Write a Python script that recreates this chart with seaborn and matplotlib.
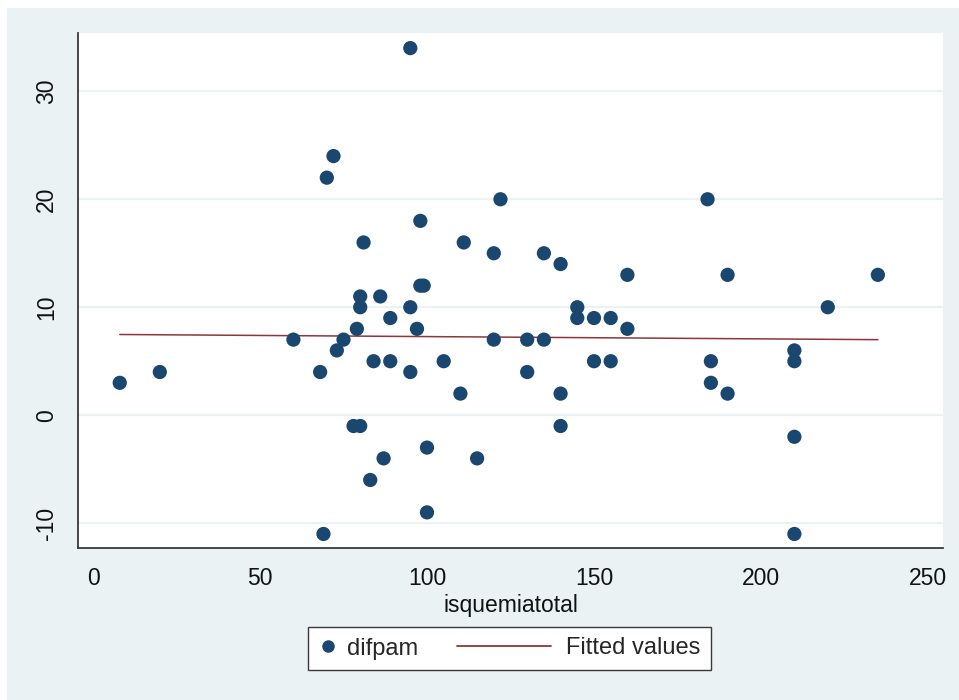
import numpy as np
import pandas as pd
import seaborn as sns
import matplotlib
matplotlib.use("Agg")
import matplotlib.pyplot as plt
from matplotlib.lines import Line2D
from matplotlib.patches import Rectangle
from matplotlib.legend_handler import HandlerBase

# values (isquemiatotal vs difpam)
isquemiatotal = [8, 20, 60, 68, 69, 70, 72, 73, 75, 78, 79, 80, 80, 80, 81,
                 83, 84, 86, 87, 89, 89, 95, 95, 95, 97, 98, 98, 99, 100, 100,
                 105, 110, 111, 115, 120, 120, 122, 130, 130, 135, 135, 140, 140, 140,
                 145, 145, 150, 150, 155, 155, 160, 160, 184, 185, 185, 190, 190,
                 210, 210, 210, 210, 220, 235]
difpam = [3, 4, 7, 4, -11, 22, 24, 6, 7, -1, 8, -1, 10, 11, 16,
          -6, 5, 11, -4, 9, 5, 10, 4, 34, 8, 18, 12, 12, -3, -9,
          5, 2, 16, -4, 7, 15, 20, 4, 7, 7, 15, 14, 2, -1,
          10, 9, 9, 5, 9, 5, 13, 8, 20, 5, 3, 13, 2,
          6, 5, -2, -11, 10, 13]
x_ticks = [0, 50, 100, 150, 200, 250]
y_ticks = [-10, 0, 10, 20, 30]

df = pd.DataFrame({"isquemiatotal": isquemiatotal, "difpam": difpam})

# stata s2color look
BG = "#EAF2F3"
NAVY = "#1A476F"
MAROON = "#90353B"
AXC = "#3a3a3a"

sns.set_style("white")
plt.rcParams["font.family"] = ["Liberation Sans", "DejaVu Sans"]
plt.rcParams["axes.unicode_minus"] = False  # stata prints "-10" with a hyphen

fig = plt.figure(figsize=(9.59, 7.0), dpi=100, facecolor="white")
# light outer region (thin white strip on top / left like the screenshot)
fig.add_artist(Rectangle((7 / 959, 0), 1 - 7 / 959, 692 / 700,
                         transform=fig.transFigure, facecolor=BG,
                         edgecolor="none", zorder=-10))

ax = fig.add_axes([78 / 959, 152 / 700, 865 / 959, 515 / 700])
ax.set_facecolor("white")

sns.scatterplot(data=df, x="isquemiatotal", y="difpam", ax=ax, color=NAVY,
                s=105, edgecolor="none", linewidth=0, zorder=3, legend=False)
# linear fit line (Fitted values)
sns.regplot(data=df, x="isquemiatotal", y="difpam", ax=ax, scatter=False,
            ci=None, truncate=True, line_kws={"color": MAROON, "lw": 1.1, "zorder": 2})

ax.set_xlim(-4.5, 254.5)
ax.set_ylim(-12.3, 35.4)
ax.set_xticks(x_ticks)
ax.set_yticks(y_ticks)
ax.grid(axis="y", color=BG, lw=1.6, zorder=0)
ax.set_axisbelow(True)

for side in ["top", "right"]:
    ax.spines[side].set_visible(False)
for side in ["left", "bottom"]:
    ax.spines[side].set_color(AXC)
    ax.spines[side].set_linewidth(1.3)

ax.tick_params(axis="both", direction="out", length=6.5, width=1.1,
               color=AXC, labelsize=16.5, labelcolor="#111111")
ax.tick_params(axis="x", pad=7)
ax.tick_params(axis="y", pad=8, labelrotation=90)
for lab in ax.get_yticklabels():
    lab.set_verticalalignment("center")

ax.set_xlabel("isquemiatotal", fontsize=16.5, color="#111111", labelpad=3)
ax.set_ylabel("")


class LongLineHandler(HandlerBase):
    # draws the legend line reaching left into the column gap
    def create_artists(self, legend, orig_handle, xdescent, ydescent,
                       width, height, fontsize, trans):
        y = height / 2 - ydescent
        x1 = width - xdescent - 0.25 * fontsize
        x0 = x1 - 4.0 * fontsize
        ln = Line2D([x0, x1], [y, y], color=orig_handle.get_color(),
                    lw=orig_handle.get_linewidth())
        ln.set_transform(trans)
        return [ln]


dot = Line2D([], [], marker="o", ls="none", color=NAVY, markersize=9,
             markeredgewidth=0)
fit = Line2D([], [], color=MAROON, lw=1.3)
leg = fig.legend([dot, fit], ["difpam", "Fitted values"], ncol=2,
                 loc="center", bbox_to_anchor=(509.5 / 959, 1 - 648.5 / 700),
                 fontsize=17, frameon=True, fancybox=False, framealpha=1,
                 edgecolor=AXC, facecolor="white", handlelength=0.8,
                 handletextpad=0.4, columnspacing=5.1, borderpad=0.45,
                 handler_map={fit: LongLineHandler()})
leg.get_frame().set_linewidth(1.0)

fig.savefig("out.png", dpi=100, facecolor=fig.get_facecolor())
